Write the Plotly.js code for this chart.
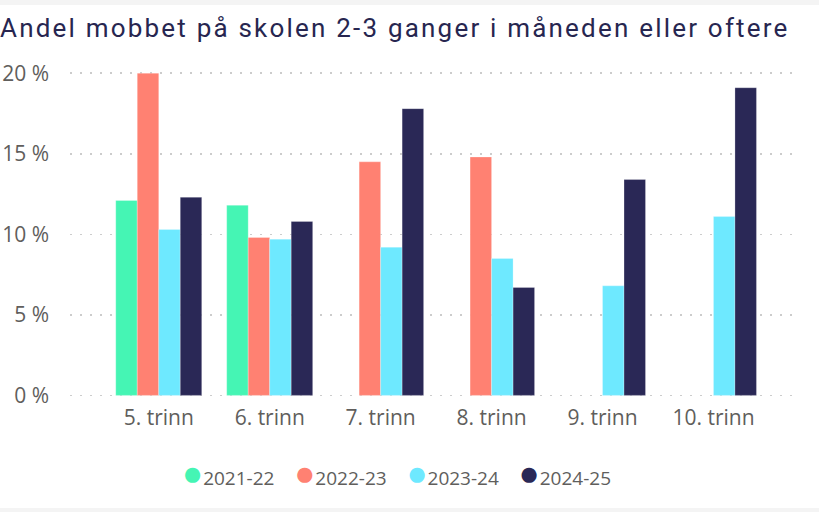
<!DOCTYPE html>
<html>
<head>
<meta charset="utf-8">
<script src="https://cdn.plot.ly/plotly-3.0.1.min.js"></script>
<style>
html,body{margin:0;padding:0;background:#f4f4f4;width:819px;height:512px;overflow:hidden;}
#chart{position:absolute;left:0;top:5px;width:819px;height:503px;background:#fff;}
#chart .gtitle{letter-spacing:2.2px;}
</style>
</head>
<body>
<div id="chart"></div>
<script>
var categories = ["5. trinn", "6. trinn", "7. trinn", "8. trinn", "9. trinn", "10. trinn"];
var seriesNames = ["2021-22", "2022-23", "2023-24", "2024-25"];
var s2021 = [12.1, 11.8, null, null, null, null];
var s2022 = [20.0, 9.8, 14.5, 14.8, null, null];
var s2023 = [10.3, 9.7, 9.2, 8.5, 6.8, 11.1];
var s2024 = [12.3, 10.8, 17.8, 6.7, 13.4, 19.1];
var yTicks = [0, 5, 10, 15, 20];
var yTickLabels = ["0 %", "5 %", "10 %", "15 %", "20 %"];
var colors = ["#45F5B4", "#FF8172", "#6EE9FF", "#2A2856"];

var allSeries = [s2021, s2022, s2023, s2024];
var traces = allSeries.map(function(vals, i){
  return {
    type: "bar", x: categories, y: vals, name: seriesNames[i],
    marker: {color: colors[i], line: {color: "rgba(255,255,255,0.5)", width: 0.5}},
    showlegend: false
  };
});

var legendText = seriesNames.map(function(n, i){
  return '<span style="color:' + colors[i] + ';font-size:35px">\u25CF</span>' + n;
}).join('\u00a0\u00a0\u00a0\u00a0');

var layout = {
  width: 819, height: 503,
  margin: {l: 70, r: 19, t: 65, b: 111.4},
  paper_bgcolor: "#ffffff", plot_bgcolor: "#ffffff",
  title: {text: "Andel mobbet på skolen 2-3 ganger i måneden eller oftere",
    font: {family: "Roboto, sans-serif", size: 26, color: "#272650"},
    x: 0, xanchor: "left", xref: "container", y: 0.973, yref: "container", yanchor: "top", pad: {l: 0, t: 0}},
  barmode: "group", bargap: 0.225, bargroupgap: 0,
  xaxis: {type: "category", range: [-0.8, 5.78], showgrid: false, zeroline: false,
    showline: false, ticks: "", ticklabelstandoff: 6,
    tickfont: {family: "Open Sans, sans-serif", size: 21, color: "#605E5C"}},
  yaxis: {range: [-0.1, 20.2], tickvals: yTicks, ticktext: yTickLabels, showgrid: true,
    gridcolor: "#cccccc", gridwidth: 1.5, griddash: "1.5px,8.5px", zeroline: false, showline: false,
    ticks: "", ticklabelstandoff: 20,
    tickfont: {family: "Open Sans, sans-serif", size: 21, color: "#605E5C"}},
  showlegend: false,
  annotations: [{
    text: legendText, xref: "paper", yref: "paper", x: 0.447, y: -0.228,
    xanchor: "center", yanchor: "middle", showarrow: false,
    font: {family: "Open Sans, sans-serif", size: 19, color: "#605E5C"}
  }]
};
Plotly.newPlot("chart", traces, layout, {displayModeBar: false, staticPlot: true});
</script>
</body>
</html>
